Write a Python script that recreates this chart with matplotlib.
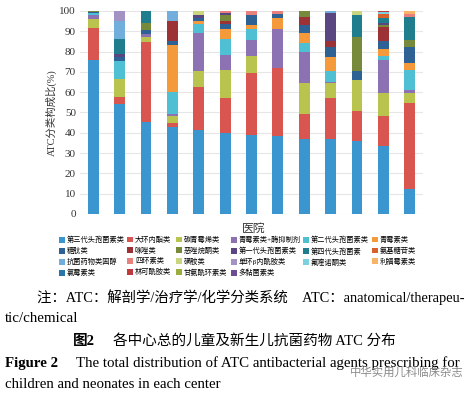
import matplotlib
matplotlib.use('Agg')
import matplotlib.pyplot as plt
import numpy as np

plt.rcParams['font.family'] = ['Liberation Serif', 'Noto Sans CJK SC']

hospitals = np.arange(13)

categories = ['第三代头孢菌素类', '大环内酯类', '碳青霉烯类', '青霉素类+酶抑制剂', '第二代头孢菌素类', '青霉素类',
              '糖肽类', '咪唑类', '恶唑烷酮类', '第一代头孢菌素类', '第四代头孢菌素', '氨基糖苷类',
              '抗菌药物类固醇', '四环素类', '磺胺类', '单环β内酰胺类', '氟喹诺酮类', '利福霉素类',
              '氯霉素类', '林可酰胺类', '甘氨酰环素类', '多黏菌素类']

cef3 = [75.7, 54.3, 45.2, 43.1, 41.6, 40.0, 39.1, 38.3, 37.0, 36.7, 35.9, 33.6, 12.5]
macro = [15.9, 3.4, 39.5, 1.6, 21.2, 17.2, 30.5, 33.6, 12.3, 20.5, 14.9, 14.8, 42.3]
carba = [4.6, 8.9, 2.6, 3.5, 7.6, 13.8, 8.2, 0, 15.2, 7.3, 15.2, 11.3, 4.9]
pen_inh = [1.8, 0, 1.6, 1.3, 18.7, 7.3, 7.9, 19.2, 15.4, 0.6, 0, 16.1, 1.6]
cef2 = [0.8, 8.9, 0, 10.5, 4.5, 8.0, 5.3, 0, 4.5, 5.5, 0, 2.2, 9.8]
pen = [0, 0, 0, 23.4, 1.6, 5.0, 1.9, 5.4, 4.7, 6.7, 0, 3.4, 3.2]
glyco = [0.6, 2.0, 1.6, 1.6, 1.3, 2.3, 5.3, 1.9, 4.0, 5.1, 4.2, 4.0, 8.1]
imid = [0, 0, 0, 10.1, 0, 1.3, 0, 0, 4.1, 3.0, 0, 6.9, 0]
oxaz = [0.6, 0, 3.6, 0, 0, 3.3, 0, 0, 2.8, 0, 17.1, 1.0, 3.3]
cef1 = [0, 1.3, 0, 0, 1.5, 0.8, 0, 0, 0, 13.8, 0, 1.0, 0]
cef4 = [0, 7.2, 5.9, 0, 0, 0, 0, 0, 0, 0, 10.7, 2.2, 11.2]
amino = [0, 0, 0, 0, 0, 0, 0, 0, 0, 0, 0, 2.1, 0]
steroid = [0, 8.9, 0, 4.9, 0, 0, 0, 0, 0, 0.8, 0, 0, 0]
tetra = [0, 0, 0, 0, 0, 1.0, 1.8, 1.6, 0, 0, 0, 0, 1.6]
sulfa = [0, 0, 0, 0, 2.0, 0, 0, 0, 0, 0, 2.0, 0, 0]
mono = [0, 5.1, 0, 0, 0, 0, 0, 0, 0, 0, 0, 0, 0]
quino = [0, 0, 0, 0, 0, 0, 0, 0, 0, 0, 0, 0.7, 0]
rifa = [0, 0, 0, 0, 0, 0, 0, 0, 0, 0, 0, 0, 1.5]
chlor = [0] * 13
linco = [0, 0, 0, 0, 0, 0, 0, 0, 0, 0, 0, 0.7, 0]
glycyl = [0] * 13
poly = [0] * 13

series = [cef3, macro, carba, pen_inh, cef2, pen, glyco, imid, oxaz, cef1, cef4, amino,
          steroid, tetra, sulfa, mono, quino, rifa, chlor, linco, glycyl, poly]

colors = ['#3b96cf', '#d9554f', '#b8c44e', '#8c72b2', '#4fc0d4', '#f59a3a',
          '#2e6295', '#9c3236', '#778a3c', '#5a4781', '#1f7d8e', '#d9602a',
          '#72aedb', '#e8817d', '#c9d67f', '#a392c4', '#7fd0de', '#f7b366',
          '#2a75a8', '#bf3a3c', '#9aae3e', '#6c4d94']

fig = plt.figure(figsize=(4.73, 3.94), dpi=100)
ax = fig.add_axes([80 / 473, 1 - 214 / 394, 343 / 473, 203 / 394])

bottom = np.zeros(len(hospitals))
for vals, name, col in zip(series, categories, colors):
    ax.bar(hospitals, vals, 0.41, bottom=bottom, color=col, label=name, linewidth=0)
    bottom += np.array(vals)

ax.set_xlim(-0.5, 12.5)
ax.set_ylim(0, 100)
ax.set_yticks(range(0, 101, 10))
ax.set_xticks([])
ax.grid(axis='y', color='#e6e6e6', lw=0.8)
ax.set_axisbelow(True)
for s in ax.spines.values():
    s.set_visible(False)
ax.tick_params(axis='y', length=0, labelsize=8, pad=3, labelcolor='#333333')
ax.set_ylabel('ATC分类构成比(%)', fontsize=7.5, color='#333333')
ax.yaxis.set_label_coords(-0.067, 0.5)
ax.set_xlabel('医院', fontsize=8.5, color='#333333')
ax.xaxis.set_label_coords(0.507, -0.045)

# legend: six single columns so they sit where the original puts them
handles, labels = ax.get_legend_handles_labels()
col_x = [59, 127, 176, 231, 303, 372]
for j, x0 in enumerate(col_x):
    idx = list(range(j, len(categories), 6))
    fig.legend([handles[k] for k in idx], [labels[k] for k in idx],
               loc='upper left', bbox_to_anchor=(x0 / 473, 1 - 236 / 394), frameon=False,
               fontsize=5.2, handlelength=0.85, handleheight=0.85, handletextpad=0.25,
               labelspacing=0.5, borderaxespad=0, borderpad=0)

# caption
fig.text(37 / 473, 1 - 297 / 394, '注：ATC：解剖学/治疗学/化学分类系统　ATC：anatomical/therapeu-',
         fontsize=10.4, va='center', ha='left')
fig.text(5 / 473, 1 - 319 / 394, 'tic/chemical', fontsize=10.8, va='center', ha='left')
fig.text(73 / 473, 1 - 341 / 394, '图2', fontsize=10.5, va='center', ha='left', fontweight='bold')
fig.text(113 / 473, 1 - 341 / 394, '各中心总的儿童及新生儿抗菌药物 ATC 分布', fontsize=10.5,
         va='center', ha='left')
fig.text(5 / 473, 1 - 363 / 394, 'Figure 2', fontsize=10.7, va='center', ha='left', fontweight='bold')
fig.text(76 / 473, 1 - 363 / 394, 'The total distribution of ATC antibacterial agents prescribing for',
         fontsize=10.7, va='center', ha='left')
fig.text(5 / 473, 1 - 384 / 394, 'children and neonates in each center', fontsize=10.7,
         va='center', ha='left')
fig.text(350 / 473, 1 - 372 / 394, '中华实用儿科临床杂志', fontsize=8.2, va='center', ha='left',
         color='#8a8a8a', family=['Noto Sans CJK SC'])

fig.savefig('out.png', dpi=100)
